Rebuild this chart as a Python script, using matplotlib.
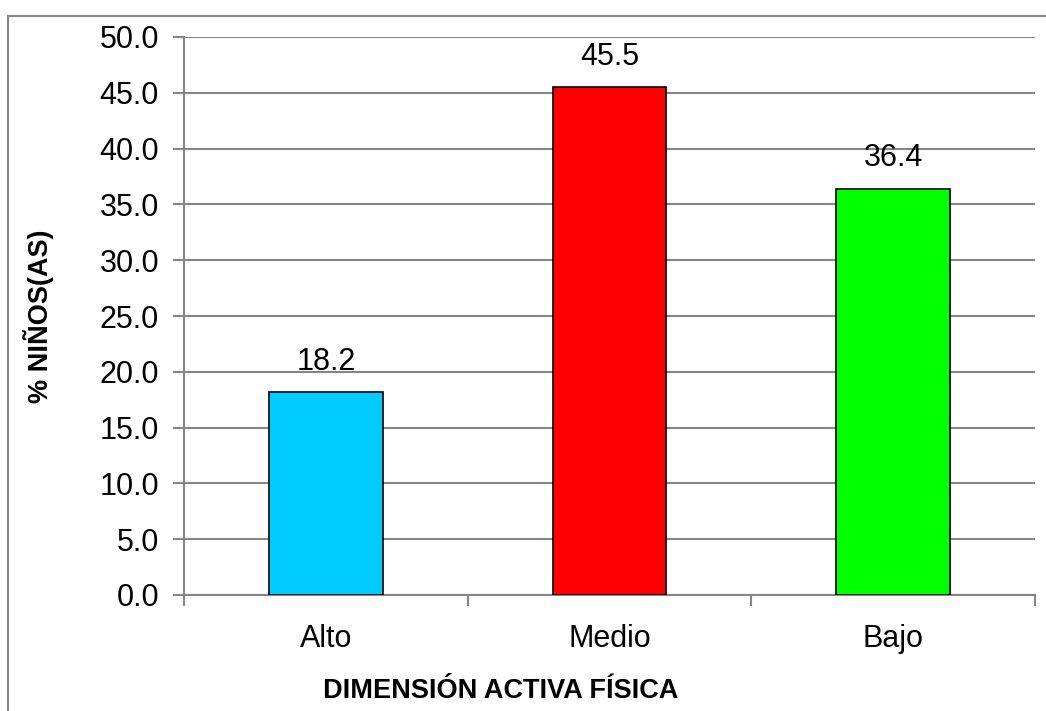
import matplotlib
matplotlib.use("Agg")
import matplotlib.pyplot as plt
from matplotlib.lines import Line2D
from matplotlib.ticker import FixedLocator, FormatStrFormatter

categories = ["Alto", "Medio", "Bajo"]
values = [18.2, 45.5, 36.4]
colors = ["#00CCFF", "#FF0000", "#00FF00"]
yticks = [0, 5, 10, 15, 20, 25, 30, 35, 40, 45, 50]

plt.rcParams['font.family'] = ['Liberation Sans', 'DejaVu Sans']
GRAY = "#868686"

fig = plt.figure(figsize=(10.46, 7.11), dpi=100)
ax = fig.add_axes([184/1046, 1-595/711, (1035-184)/1046, (595-37)/711])

x = list(range(len(categories)))
ax.bar(x, values, width=0.40, color=colors, edgecolor="black", linewidth=1.2, zorder=3)
for xi, v in zip(x, values):
    ax.annotate(f"{v:.1f}", (xi, v), xytext=(0, 11), textcoords="offset points",
                ha="center", va="bottom", fontsize=22)

ax.set_xlim(-0.5, len(categories) - 0.5)
ax.set_ylim(0, 50)
ax.set_yticks(yticks)
ax.yaxis.set_major_formatter(FormatStrFormatter("%.1f"))
ax.set_xticks(x)
ax.set_xticklabels(categories)
ax.xaxis.set_minor_locator(FixedLocator([i - 0.5 for i in range(len(categories) + 1)]))
ax.tick_params(axis="x", which="major", length=0, pad=21, labelsize=22)
ax.tick_params(axis="x", which="minor", length=8, width=1.5, color=GRAY, direction="out")
ax.tick_params(axis="y", length=8, width=1.5, color=GRAY, direction="out", labelsize=22, pad=10)

ax.grid(axis="y", color=GRAY, linewidth=1.5, zorder=0)
ax.set_axisbelow(True)
for s in ["top", "right"]:
    ax.spines[s].set_visible(False)
for s in ["left", "bottom"]:
    ax.spines[s].set_color(GRAY)
    ax.spines[s].set_linewidth(1.5)

fig.text(501/1046, 1-691/711, "DIMENSIÓN ACTIVA FÍSICA", fontsize=19.5,
         fontweight="bold", ha="center", va="center")
fig.text(38/1046, 1-316/711, "% NIÑOS(AS)", fontsize=19.5,
         fontweight="bold", ha="center", va="center", rotation=90)

# outer chart frame
fig.add_artist(Line2D([8/1046, 8/1046], [0, 1-16/711], color=GRAY, linewidth=1.5, transform=fig.transFigure))
fig.add_artist(Line2D([8/1046, 1], [1-16/711, 1-16/711], color=GRAY, linewidth=1.5, transform=fig.transFigure))

fig.savefig("out.png", dpi=100)
